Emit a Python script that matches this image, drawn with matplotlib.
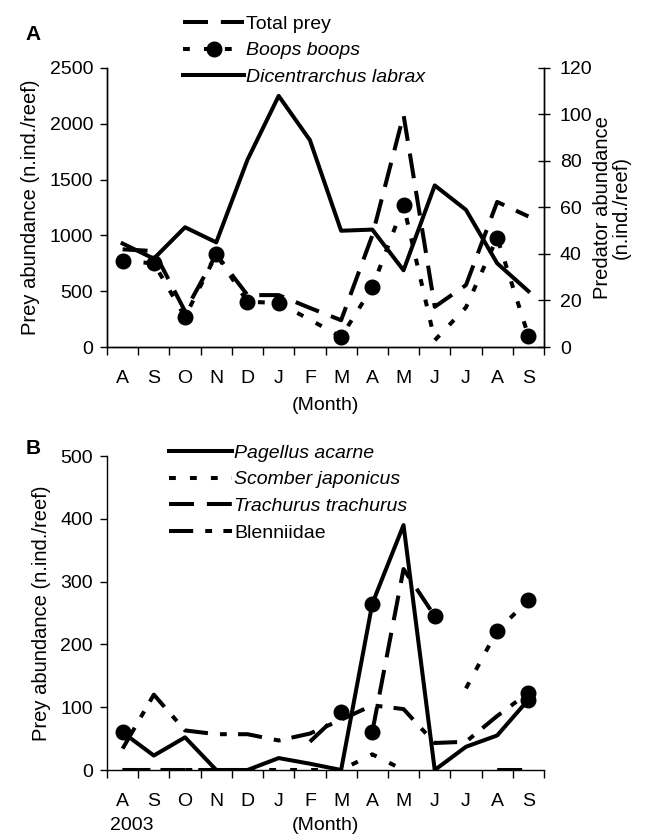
import numpy as np
import matplotlib
matplotlib.use("Agg")
import matplotlib.pyplot as plt
from matplotlib.lines import Line2D

plt.rcParams["font.family"] = ["Liberation Sans", "DejaVu Sans"]
plt.rcParams["font.size"] = 14

nan = np.nan

# ---- data ----
months = ["A", "S", "O", "N", "D", "J", "F", "M", "A", "M", "J", "J", "A", "S"]

# panel A (prey on left axis, predator on right axis)
total_prey = [875, 860, 320, 830, 465, 465, 350, 240, 1000, 2080, 360, 555, 1300, 1170]
boops = [770, 750, 270, 830, 405, 395, 245, 90, 535, 1270, 60, 355, 980, 100]
boops_dots = [0, 1, 2, 3, 4, 5, 7, 8, 9, 12, 13]
dicentrarchus = [44.5, 38, 51.5, 45, 80.5, 108, 89, 50, 50.5, 33, 69.5, 59, 36, 24]

# panel B
pagellus = [60, 23, 52, 0, 0, 19, 10, 0, 265, 390, 0, 37, 55, 112]
pagellus_dots = [0, 8, 13]
scomber = [0, 0, 0, 0, 0, 0, 0, 0, 25, 0, nan, 130, 222, 270]
scomber_dots = [12, 13]
trachurus_1 = [0, 0, 0, 0, nan, nan, 45, 92, nan, nan, nan, nan, 0, 0]
trachurus_2 = [nan, nan, nan, nan, nan, nan, nan, nan, 61, 320, 245, nan, nan, nan]
blenniidae = [34, 120, 63, 57, 57, 47, 58, 80, 103, 97, 43, 45, 86, 123]
blenniidae_dots = [13]

LW = 2.9
LONG_DASH = (0, (6.2, 3.2))
DOTTED = (0, (1.7, 3.5))
DASH_DOT = (0, (6.0, 3.0, 1.7, 2.8))
MS = 10.5

x = np.arange(len(months))


def style_xaxis(ax):
    ax.set_xlim(-0.5, len(months) - 0.5)
    ax.set_xticks(x)
    ax.set_xticklabels(months)
    ax.set_xticks(np.arange(-0.5, len(months)), minor=True)
    ax.tick_params(axis="x", which="major", length=0, pad=16.5)
    ax.tick_params(axis="x", which="minor", length=6, width=1, direction="out")


def dots(ax, values, idx):
    vals = np.array(values, dtype=float)
    ax.plot(x[idx], vals[idx], "o", color="black", markersize=MS, zorder=5)


fig = plt.figure(figsize=(6.45, 8.38), dpi=100)

# ---------------- Panel A ----------------
axA = fig.add_axes([107 / 645, 1 - 347 / 838, 437 / 645, 279 / 838])
axA.plot(x, total_prey, color="black", lw=LW, linestyle=LONG_DASH)
axA.plot(x, boops, color="black", lw=LW, linestyle=DOTTED)
dots(axA, boops, boops_dots)
axA.set_ylim(0, 2500)
axA.set_yticks(range(0, 2501, 500))
axA.tick_params(axis="y", length=5, width=1, pad=5)
style_xaxis(axA)
axA.spines["top"].set_visible(False)
axA.set_ylabel("Prey abundance (n.ind./reef)", fontsize=14.5, labelpad=7)
axA.set_xlabel("(Month)", labelpad=7)

axR = axA.twinx()
axR.plot(x, dicentrarchus, color="black", lw=LW, linestyle="-")
axR.set_ylim(0, 120)
axR.set_yticks(range(0, 121, 20))
axR.tick_params(axis="y", length=9, width=1, direction="inout", pad=7)
axR.spines["top"].set_visible(False)
axR.set_ylabel("Predator abundance\n(n.ind./reef)", fontsize=14.5, labelpad=0,
               linespacing=1.0)

for ax in (axA, axR):
    for s in ax.spines.values():
        s.set_linewidth(1)

handlesA = [
    Line2D([], [], color="black", lw=LW, linestyle=LONG_DASH),
    Line2D([], [], color="black", lw=LW, linestyle=DOTTED, marker="o", markersize=MS),
    Line2D([], [], color="black", lw=LW, linestyle="-"),
]
fig.legend(handlesA, ["Total prey", "Boops boops", "Dicentrarchus labrax"],
           loc="upper left", bbox_to_anchor=(183 / 645, 1 - 15 / 838),
           frameon=False, borderpad=0, borderaxespad=0, handlelength=3.15,
           handletextpad=0.1, labelspacing=0.47, numpoints=1, fontsize=14)
legA = fig.legends[-1]
for t in legA.get_texts()[1:]:
    t.set_style("italic")

fig.text(33 / 645, 1 - 34 / 838, "A", fontsize=15, fontweight="bold",
         ha="center", va="center")

# ---------------- Panel B ----------------
axB = fig.add_axes([107 / 645, 1 - 770 / 838, 437 / 645, 314 / 838])
axB.plot(x, pagellus, color="black", lw=LW, linestyle="-")
axB.plot(x, scomber, color="black", lw=LW, linestyle=DOTTED)
axB.plot(x, trachurus_1, color="black", lw=LW, linestyle=LONG_DASH)
axB.plot(x, trachurus_2, color="black", lw=LW, linestyle=LONG_DASH)
axB.plot(x, blenniidae, color="black", lw=LW, linestyle=DASH_DOT)
dots(axB, pagellus, pagellus_dots)
dots(axB, scomber, scomber_dots)
dots(axB, trachurus_1, [7])
dots(axB, trachurus_2, [8, 10])
dots(axB, blenniidae, blenniidae_dots)
axB.set_ylim(0, 500)
axB.set_yticks(range(0, 501, 100))
axB.tick_params(axis="y", length=5, width=1, pad=5)
style_xaxis(axB)
axB.spines["top"].set_visible(False)
axB.spines["right"].set_visible(False)
for s in axB.spines.values():
    s.set_linewidth(1)
axB.set_ylabel("Prey abundance (n.ind./reef)", fontsize=14.5, labelpad=7)
axB.set_xlabel("(Month)", labelpad=5)

fig.legend([Line2D([], [], color="black", lw=LW, linestyle="-"),
            Line2D([], [], color="black", lw=LW, linestyle=DOTTED),
            Line2D([], [], color="black", lw=LW, linestyle=LONG_DASH),
            Line2D([], [], color="black", lw=LW, linestyle=DASH_DOT)],
           ["Pagellus acarne", "Scomber japonicus", "Trachurus trachurus", "Blenniidae"],
           loc="upper left", bbox_to_anchor=(169 / 645, 1 - 444 / 838),
           frameon=False, borderpad=0, borderaxespad=0, handlelength=3.25,
           handletextpad=0.1, labelspacing=0.47, fontsize=14)
legB = fig.legends[-1]
for t in legB.get_texts()[:3]:
    t.set_style("italic")

fig.text(33 / 645, 1 - 448 / 838, "B", fontsize=15, fontweight="bold",
         ha="center", va="center")
fig.text(110 / 645, 1 - 825 / 838, "2003", fontsize=14, ha="left", va="center")

fig.savefig("out.png", dpi=100)
